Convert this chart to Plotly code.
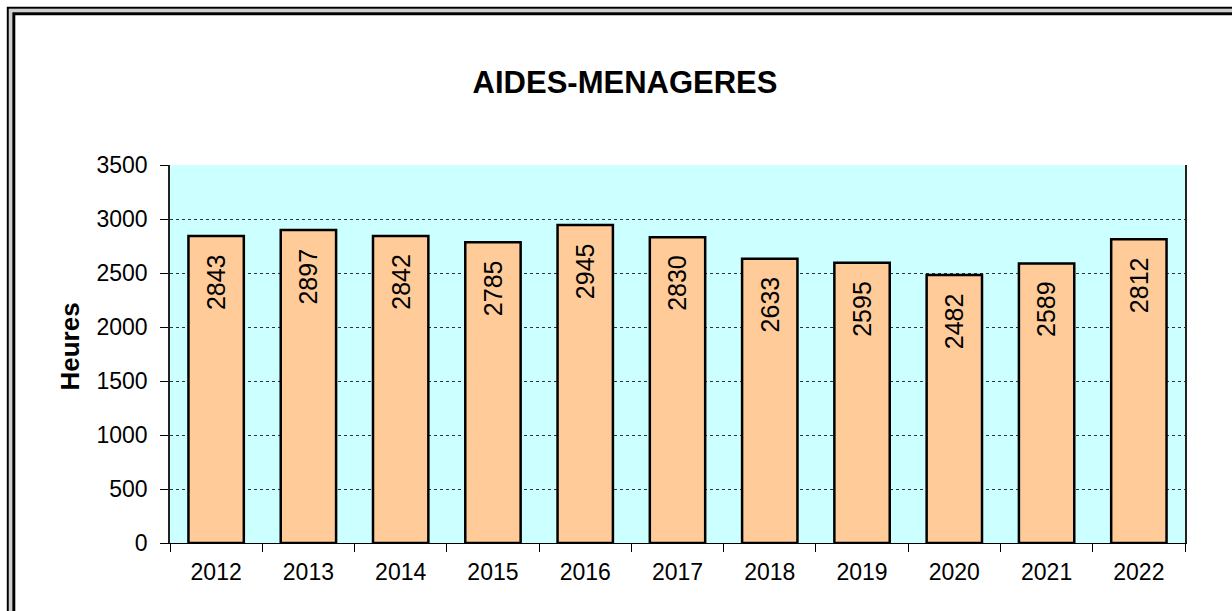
import plotly.graph_objects as go

years = ["2012", "2013", "2014", "2015", "2016", "2017", "2018", "2019", "2020", "2021", "2022"]
hours = [2843, 2897, 2842, 2785, 2945, 2830, 2633, 2595, 2482, 2589, 2812]
y_ticks = [0, 500, 1000, 1500, 2000, 2500, 3000, 3500]

FONT = "Liberation Sans, Arial, sans-serif"
W, H = 1232, 611
L, R, T, B = 170, 47, 165, 68
PW, PH = W - L - R, H - T - B


def px(x):
    return (x - L) / PW


def py(y):
    return (H - B - y) / PH


fig = go.Figure()
fig.add_trace(go.Bar(
    x=years, y=hours,
    marker=dict(color="#FFCC99", line=dict(color="black", width=2.5)),
    hoverinfo="x+y",
))

for i, v in enumerate(hours):
    fig.add_annotation(
        x=i, y=v, text=str(v), textangle=-90, showarrow=False,
        xanchor="center", yanchor="top", yshift=-16,
        font=dict(family=FONT, size=25, color="black"),
    )

# y-axis title
fig.add_annotation(
    xref="paper", yref="paper", x=px(69), y=py(346.5), text="<b>Heures</b>",
    textangle=-90, showarrow=False, xanchor="center", yanchor="middle",
    font=dict(family=FONT, size=26, color="black"),
)

# double frame around the chart (extends past right/bottom of view)
frame = [(7.8, 2, "black"), (10.5, 3, "#cfcfcf"), (13.8, 3, "black")]
for off, w, c in frame:
    fig.add_shape(type="rect", xref="paper", yref="paper",
                  x0=px(off), x1=px(W + 20), y0=py(H + 20), y1=py(off),
                  line=dict(color=c, width=w), fillcolor="rgba(0,0,0,0)", layer="above")

fig.update_layout(
    width=W, height=H,
    margin=dict(l=L, r=R, t=T, b=B, autoexpand=False),
    paper_bgcolor="white",
    plot_bgcolor="#CCFFFF",
    bargap=0.4,
    showlegend=False,
    font=dict(family=FONT, color="black"),
    title=dict(text="<b>AIDES-MENAGERES</b>", x=625 / W, xref="container", xanchor="center",
               y=1 - 82.5 / H, yref="container", yanchor="middle",
               font=dict(family=FONT, size=31, color="black")),
)
fig.update_xaxes(
    type="category", range=[-0.5, len(years) - 0.5], autorange=False,
    tickson="boundaries", ticks="outside", ticklen=8, tickcolor="black", tickangle=0,
    showline=True, linecolor="black", linewidth=1, showgrid=False, automargin=False,
    tickfont=dict(family=FONT, size=23, color="black"), ticklabelstandoff=8,
)
fig.update_yaxes(
    range=[0, 3500], autorange=False, tickvals=y_ticks, ticks="outside", ticklen=8, tickcolor="black",
    showline=True, linecolor="#222", linewidth=1.5, mirror=True, automargin=False,
    showgrid=True, gridcolor="#333", griddash="dot", gridwidth=1, zeroline=False,
    tickfont=dict(family=FONT, size=23, color="black"), ticklabelstandoff=8,
)

fig.write_html("out.html", config={"displayModeBar": False},
               post_script="document.body.style.margin='0';document.body.style.overflow='hidden';")
